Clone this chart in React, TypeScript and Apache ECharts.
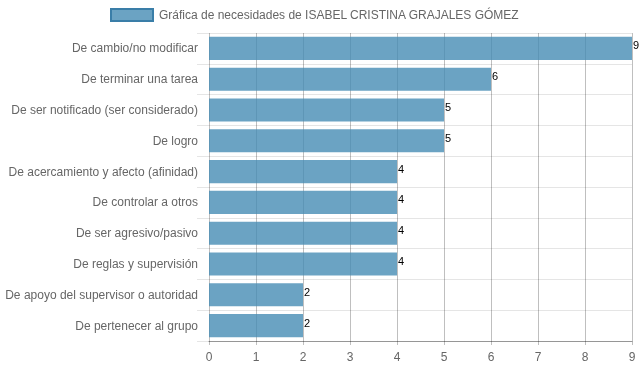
import React, { useEffect, useRef } from "react";
import * as echarts from "echarts";

const categories = [
  "De cambio/no modificar",
  "De terminar una tarea",
  "De ser notificado (ser considerado)",
  "De logro",
  "De acercamiento y afecto (afinidad)",
  "De controlar a otros",
  "De ser agresivo/pasivo",
  "De reglas y supervisión",
  "De apoyo del supervisor o autoridad",
  "De pertenecer al grupo",
];
const values = [9, 6, 5, 5, 4, 4, 4, 4, 2, 2];
const seriesName = "Gráfica de necesidades de ISABEL CRISTINA GRAJALES GÓMEZ";

const FONT = "Liberation Sans";

export default function App() {
  const ref = useRef<HTMLDivElement>(null);
  useEffect(() => {
    if (!ref.current) return;
    const chart = echarts.init(ref.current, undefined, { renderer: "svg" });
    chart.setOption({
      animation: false,
      textStyle: { fontFamily: FONT },
      legend: {
        top: 8,
        left: 110,
        padding: 0,
        itemWidth: 42,
        itemHeight: 12,
        itemGap: 6,
        textStyle: { color: "#666", fontSize: 12, fontFamily: FONT, padding: [0, 0, 0, 1] },
        data: [
          {
            name: seriesName,
            icon: "rect",
            itemStyle: {
              color: "rgba(70,140,180,0.8)",
              borderColor: "#3a7ea8",
              borderWidth: 2,
            },
          },
        ],
      },
      grid: { left: 209, right: 7, top: 33, bottom: 31, containLabel: false },
      xAxis: {
        type: "value",
        min: 0,
        max: 9,
        interval: 1,
        axisLine: { show: true, lineStyle: { color: "rgba(0,0,0,0.35)" } },
        axisTick: { show: true, length: 4, lineStyle: { color: "rgba(0,0,0,0.25)" } },
        axisLabel: { color: "#666", fontSize: 12, margin: 10, fontFamily: FONT },
        splitLine: { show: true, lineStyle: { color: "rgba(0,0,0,0.25)" } },
      },
      yAxis: {
        type: "category",
        inverse: true,
        data: categories,
        axisLine: { show: false },
        axisTick: { show: true, length: 12, lineStyle: { color: "rgba(0,0,0,0.1)" } },
        axisLabel: { color: "#666", fontSize: 12, margin: 11, fontFamily: FONT },
        splitLine: { show: true, lineStyle: { color: "rgba(0,0,0,0.1)" } },
      },
      series: [
        {
          name: seriesName,
          type: "bar",
          data: values,
          barCategoryGap: "25%",
          itemStyle: { color: "rgba(70,140,180,0.8)" },
          label: {
            show: true,
            position: "right",
            distance: 1,
            offset: [0, -3],
            color: "#000",
            fontSize: 11,
            fontFamily: FONT,
          },
        },
      ],
    });
    return () => chart.dispose();
  }, []);
  return (
    <div
      ref={ref}
      style={{ position: "fixed", left: 0, top: 0, width: 639, height: 372 }}
    />
  );
}
